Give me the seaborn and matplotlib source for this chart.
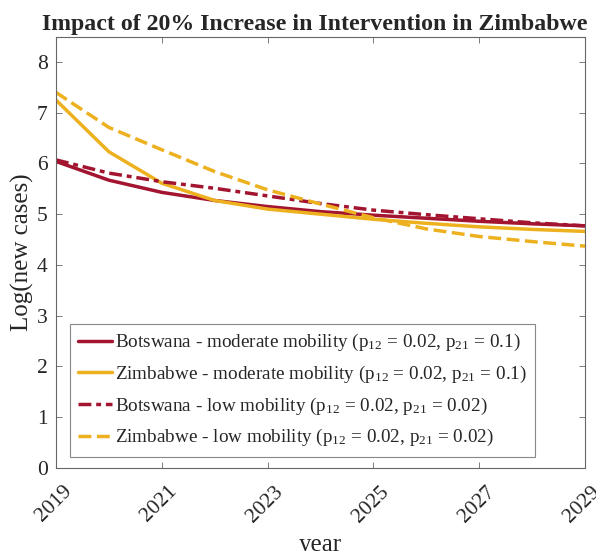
import numpy as np
import pandas as pd
import matplotlib
matplotlib.use("Agg")
import matplotlib.pyplot as plt
import matplotlib.transforms as mtransforms
import seaborn as sns

# data
years = [2019, 2020, 2021, 2022, 2023, 2024, 2025, 2026, 2027, 2028, 2029]
botswana_moderate = [6.04, 5.67, 5.43, 5.27, 5.15, 5.05, 4.98, 4.92, 4.86, 4.81, 4.77]
zimbabwe_moderate = [7.25, 6.23, 5.61, 5.27, 5.10, 5.00, 4.90, 4.82, 4.75, 4.70, 4.66]
botswana_low = [6.07, 5.81, 5.64, 5.51, 5.36, 5.21, 5.08, 4.99, 4.91, 4.83, 4.77]
zimbabwe_low = [7.40, 6.71, 6.27, 5.84, 5.48, 5.20, 4.93, 4.71, 4.56, 4.46, 4.37]

labels = [
    r"Botswana - moderate mobility (p$_{12}$ = 0.02, p$_{21}$ = 0.1)",
    r"Zimbabwe - moderate mobility (p$_{12}$ = 0.02, p$_{21}$ = 0.1)",
    r"Botswana - low mobility (p$_{12}$ = 0.02, p$_{21}$ = 0.02)",
    r"Zimbabwe - low mobility (p$_{12}$ = 0.02, p$_{21}$ = 0.02)",
]
series = [botswana_moderate, zimbabwe_moderate, botswana_low, zimbabwe_low]

red = "#A2142F"
yellow = "#EDB120"
colors = [red, yellow, red, yellow]
styles = ["-", "-", "-.", "--"]

sns.set_style("ticks")
plt.rcParams["font.family"] = ["Liberation Serif", "DejaVu Serif"]
plt.rcParams["mathtext.default"] = "regular"
plt.rcParams["xtick.direction"] = "in"
plt.rcParams["ytick.direction"] = "in"

fig = plt.figure(figsize=(5.96, 5.51), dpi=100)
ax = fig.add_axes([0.094, 0.151, 0.8875, 0.7825])

for vals, lab, col, ls in zip(series, labels, colors, styles):
    df = pd.DataFrame({"year": years, "value": vals})
    sns.lineplot(data=df, x="year", y="value", color=col, linestyle=ls,
                 linewidth=2.5, label=lab, ax=ax)
    if ls == "-.":
        ax.lines[-1].set_dashes([3.7, 1.4, 1.4, 1.4])

ax.set_xlim(2019, 2029)
ax.set_ylim(0, 8.5)
ax.set_xticks(np.arange(2019, 2030, 2))
ax.set_yticks(np.arange(0, 9, 1))

for s in ax.spines.values():
    s.set_visible(True)
    s.set_color("#666666")
    s.set_linewidth(0.8)
ax.tick_params(axis="both", which="both", top=True, right=True, length=4,
               width=0.6, color="#666666", labelsize=15.5, labelcolor="#262626")
ax.tick_params(axis="y", pad=6)
ax.tick_params(axis="x", pad=6)
plt.setp(ax.get_xticklabels(), rotation=45, ha="right", va="top",
         rotation_mode="anchor", fontsize=15.5)
# MATLAB puts the end of a rotated label a bit right of its tick
shift = mtransforms.ScaledTranslation(6 / 100, -6 / 100, fig.dpi_scale_trans)
for lbl in ax.get_xticklabels():
    lbl.set_transform(lbl.get_transform() + shift)

ax.set_xlabel("year", fontsize=18, color="#262626", labelpad=6)
ax.set_ylabel("Log(new cases)", fontsize=18, color="#262626", labelpad=2)
ax.set_title("Impact of 20% Increase in Intervention in Zimbabwe",
             fontsize=17.2, fontweight="bold", pad=5, x=0.489)

leg = ax.legend(loc="lower left", bbox_to_anchor=(0.026, 0.025),
                borderaxespad=0, fontsize=13.8, frameon=True, fancybox=False,
                edgecolor="#888888", framealpha=1, handlelength=1.75,
                handletextpad=0.15, labelspacing=0.55, borderpad=0.45)
leg.get_frame().set_linewidth(0.8)
for t in leg.get_texts():
    t.set_color("#262626")

fig.savefig("out.png", dpi=100)
